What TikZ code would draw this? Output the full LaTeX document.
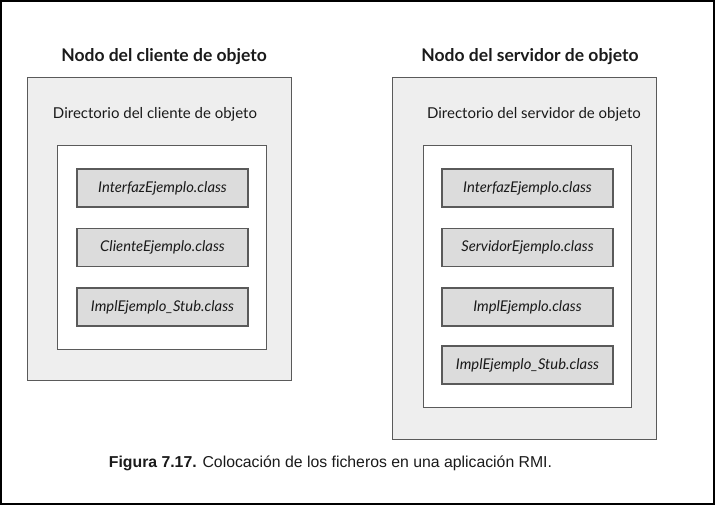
\documentclass[tikz,border=0pt]{standalone}
\usepackage{fontspec}
\setmainfont{Lato}
\newfontfamily\capfont{Liberation Sans}
\definecolor{boxgray}{HTML}{EEEEEE}
\definecolor{filegray}{HTML}{DCDCDC}
\definecolor{edgegray}{HTML}{5A5A5A}
\definecolor{txtgray}{HTML}{1A1A1A}
\tikzset{
  outerbox/.style={draw=edgegray, fill=boxgray, line width=1.1pt, anchor=north west, inner sep=0pt},
  dirbox/.style={draw=edgegray, fill=white, line width=1.1pt, anchor=north west, inner sep=0pt},
  filebox/.style={draw=edgegray, fill=filegray, line width=1.1pt, minimum width=171pt, minimum height=38pt, inner sep=0pt, font=\fontsize{14.8}{16}\selectfont\itshape, text=txtgray},
  nodetitle/.style={font=\fontsize{17.5}{19}\selectfont\bfseries, text=txtgray},
  dirtitle/.style={font=\fontsize{15}{17}\selectfont, text=txtgray},
}
\begin{document}
\begin{tikzpicture}[x=1pt,y=-1pt]
\useasboundingbox (0,0) rectangle (715,509);
\draw[line width=2pt, black] (1,1) rectangle (714,504);
% left node
\node[outerbox, minimum width=264pt, minimum height=303pt] (lnode) at (27,77) {};
\node[nodetitle] (ltitle) at (164,57) {Nodo del cliente de objeto};
\node[dirtitle] (ldirt) at (155,114) {Directorio del cliente de objeto};
\node[dirbox, minimum width=209pt, minimum height=204pt] (ldir) at (57,145) {};
\node[filebox] (l1) at (162.5,188) {InterfazEjemplo.class};
\node[filebox] (l2) at (162.5,247.5) {ClienteEjemplo.class};
\node[filebox] (l3) at (162.5,307) {ImplEjemplo\_Stub.class};
% right node
\node[outerbox, minimum width=264pt, minimum height=362pt] (rnode) at (392,77) {};
\node[nodetitle] (rtitle) at (530,57) {Nodo del servidor de objeto};
\node[dirtitle] (rdirt) at (534,114) {Directorio del servidor de objeto};
\node[dirbox, minimum width=208pt, minimum height=262pt] (rdir) at (423,145) {};
\node[filebox] (r1) at (527.5,188) {InterfazEjemplo.class};
\node[filebox] (r2) at (527.5,247.5) {ServidorEjemplo.class};
\node[filebox] (r3) at (527.5,307) {ImplEjemplo.class};
\node[filebox] (r4) at (527.5,365) {ImplEjemplo\_Stub.class};
% caption
\node[font=\capfont\fontsize{15.8}{18}\selectfont, text=txtgray] (cap) at (330.5,463) {\textbf{Figura 7.17.} Colocación de los ficheros en una aplicación RMI.};
\end{tikzpicture}
\end{document}
